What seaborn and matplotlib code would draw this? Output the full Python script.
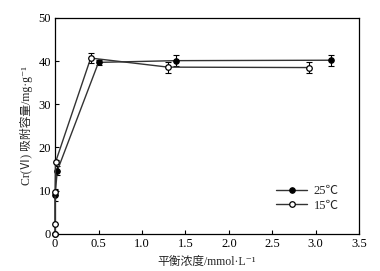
import numpy as np
import pandas as pd
import seaborn as sns
import matplotlib
matplotlib.use("Agg")
import matplotlib.pyplot as plt

# data
x15 = [0.0, 0.0, 0.0, 0.005, 0.41, 1.30, 2.92]
y15 = [0.0, 2.3, 9.6, 16.6, 40.7, 38.6, 38.5]
e15 = [0.0, 0.0, 0.6, 0.5, 1.2, 1.3, 1.2]
x25 = [0.0, 0.0, 0.025, 0.50, 1.39, 3.18]
y25 = [0.0, 9.0, 14.6, 39.7, 40.1, 40.2]
e25 = [0.0, 1.5, 1.0, 0.5, 1.3, 1.3]
xticks = [0, 0.5, 1.0, 1.5, 2.0, 2.5, 3.0, 3.5]
xticklabels = ["0", "0.5", "1.0", "1.5", "2.0", "2.5", "3.0", "3.5"]
yticks = [0, 10, 20, 30, 40, 50]

sns.set_theme(style="ticks")
plt.rcParams['font.family'] = ['Liberation Serif', 'Noto Sans CJK SC', 'DejaVu Serif']

fig = plt.figure(figsize=(3.8, 2.71), dpi=100)
ax = fig.add_axes([0.145, 0.137, 0.80, 0.797])

col = "#333333"
df25 = pd.DataFrame({"x": x25, "y": y25})
df15 = pd.DataFrame({"x": x15, "y": y15})
sns.lineplot(data=df25, x="x", y="y", ax=ax, estimator=None, sort=False,
             color=col, lw=1.0, marker="o", markersize=4.0, clip_on=False,
             markerfacecolor="black", markeredgecolor="black", label="25℃", zorder=3)
sns.lineplot(data=df15, x="x", y="y", ax=ax, estimator=None, sort=False,
             color=col, lw=1.0, marker="o", markersize=4.0, clip_on=False,
             markerfacecolor="white", markeredgecolor="black", markeredgewidth=0.9,
             label="15℃", zorder=3)
ax.errorbar(x25, y25, yerr=e25, fmt="none", ecolor="black", elinewidth=0.8, capsize=2.5, capthick=0.8, zorder=2)
ax.errorbar(x15, y15, yerr=e15, fmt="none", ecolor="black", elinewidth=0.8, capsize=2.5, capthick=0.8, zorder=2)

ax.set_xlim(0, 3.5)
ax.set_ylim(0, 50)
ax.set_xticks(xticks)
ax.set_xticklabels(xticklabels)
ax.set_yticks(yticks)
ax.tick_params(direction="in", length=3, width=0.8, labelsize=9, colors="black", pad=3)
for s in ax.spines.values():
    s.set_linewidth(0.9)
    s.set_color("black")
ax.set_xlabel("平衡浓度/mmol·L⁻¹", fontsize=8.5, labelpad=4)
ax.set_ylabel("Cr(Ⅵ) 吸附容量/mg·g⁻¹", fontsize=8.5, labelpad=4)

leg = ax.legend(loc="lower right", bbox_to_anchor=(0.97, 0.05), frameon=False,
                fontsize=9, handlelength=2.5, handletextpad=0.5, labelspacing=0.2)

fig.savefig("out.png", dpi=100)
